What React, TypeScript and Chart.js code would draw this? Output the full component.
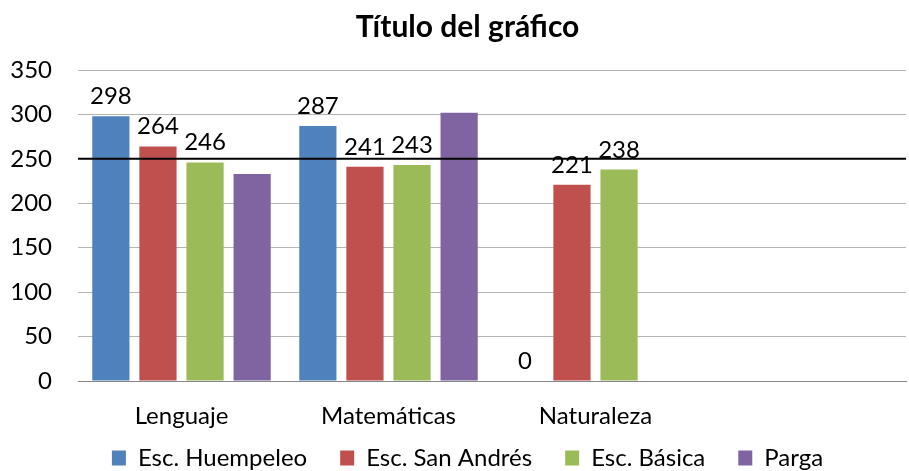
import React, { useEffect, useRef } from 'react';
import { Chart, registerables } from 'chart.js';

Chart.register(...registerables);

const categories = ['Lenguaje', 'Matemáticas', 'Naturaleza', ''];
const seriesNames = ['Esc. Huempeleo', 'Esc. San Andrés', 'Esc. Básica', 'Parga'];
const huempeleo = [298, 287, 0, null];
const sanAndres = [264, 241, 221, null];
const basica = [246, 243, 238, null];
const parga = [233, 302, null, null];
const seriesColors = ['#4F81BD', '#C0504D', '#9BBB59', '#8064A2'];
const labeledSeries = [true, true, true, false];
const referenceValue = 250;
const yMin = 0;
const yMax = 350;
const yStep = 50;
const titleText = 'Título del gráfico';

const FONT = 'Lato, "Open Sans", "Noto Sans", sans-serif';
const FS = 24;

const refLinePlugin = {
  id: 'refLine',
  afterDatasetsDraw(chart: any) {
    const { ctx, chartArea, scales } = chart;
    const y = scales.y.getPixelForValue(referenceValue);
    ctx.save();
    ctx.strokeStyle = '#000000';
    ctx.lineWidth = 2;
    ctx.beginPath();
    ctx.moveTo(chartArea.left, y);
    ctx.lineTo(chartArea.right, y);
    ctx.stroke();
    ctx.restore();
  },
};

const valueLabelPlugin = {
  id: 'valueLabels',
  afterDatasetsDraw(chart: any) {
    const { ctx } = chart;
    ctx.save();
    ctx.font = `${FS}px ${FONT}`;
    ctx.fillStyle = '#000000';
    ctx.textAlign = 'center';
    ctx.textBaseline = 'alphabetic';
    chart.data.datasets.forEach((ds: any, di: number) => {
      if (!labeledSeries[di]) return;
      const meta = chart.getDatasetMeta(di);
      meta.data.forEach((bar: any, i: number) => {
        const v = ds.data[i];
        if (v === null || v === undefined) return;
        ctx.fillText(String(v), bar.x, bar.y - 12);
      });
    });
    ctx.restore();
  },
};

const legendShiftPlugin = {
  id: 'legendShift',
  afterLayout(chart: any) {
    if (chart.legend) {
      chart.legend.top -= 18;
      chart.legend.bottom -= 18;
    }
  },
};

export default function App() {
  const canvasRef = useRef<HTMLCanvasElement | null>(null);

  useEffect(() => {
    if (!canvasRef.current) return;
    const seriesData = [huempeleo, sanAndres, basica, parga];
    const chart = new Chart(canvasRef.current, {
      type: 'bar',
      data: {
        labels: categories,
        datasets: seriesNames.map((name, i) => ({
          label: name,
          data: seriesData[i],
          backgroundColor: seriesColors[i],
          borderWidth: 0,
          categoryPercentage: 0.91,
          barPercentage: 0.79,
          yAxisID: 'y',
        })),
      },
      options: {
        responsive: false,
        animation: false,
        font: { family: FONT },
        layout: { padding: { left: 0, right: -26, top: 0, bottom: -27 } },
        plugins: {
          title: {
            display: true,
            text: titleText,
            color: '#000000',
            font: { family: FONT, size: 30, weight: 'bold' },
            padding: { top: 9, bottom: 25 },
          },
          legend: {
            position: 'bottom',
            labels: {
              boxWidth: 14,
              boxHeight: 15,
              padding: 33,
              color: '#000000',
              font: { family: FONT, size: FS },
            },
          },
          tooltip: { enabled: false },
        },
        scales: {
          x: {
            grid: { display: false, drawTicks: false },
            border: { display: true, color: '#868686', width: 1 },
            ticks: {
              color: '#000000',
              font: { family: FONT, size: FS },
              padding: 21,
              maxRotation: 0,
              autoSkip: false,
            },
            afterFit(scale: any) {
              scale.height = 50;
            },
          },
          y: {
            position: 'left',
            min: yMin,
            max: yMax,
            grid: {
              drawTicks: false,
              color: (c: any) => (c.tick && c.tick.value === 0 ? '#868686' : '#B4B4B4'),
              lineWidth: 1,
            },
            border: { display: false },
            ticks: {
              stepSize: yStep,
              color: '#000000',
              font: { family: FONT, size: FS },
              padding: 26,
            },
            afterFit(scale: any) {
              scale.width = 78;
            },
          },
          yRight: {
            position: 'right',
            display: true,
            min: yMin,
            max: yMax,
            grid: { display: false, drawTicks: false },
            border: { display: false },
            ticks: { display: false },
            afterFit(scale: any) {
              scale.width = 29;
            },
          },
        },
      },
      plugins: [refLinePlugin, valueLabelPlugin, legendShiftPlugin],
    });
    return () => chart.destroy();
  }, []);

  return (
    <div style={{ position: 'fixed', left: 0, top: 0, width: 909, height: 471, background: '#ffffff' }}>
      <canvas ref={canvasRef} width={909} height={471} style={{ display: 'block' }} />
    </div>
  );
}
